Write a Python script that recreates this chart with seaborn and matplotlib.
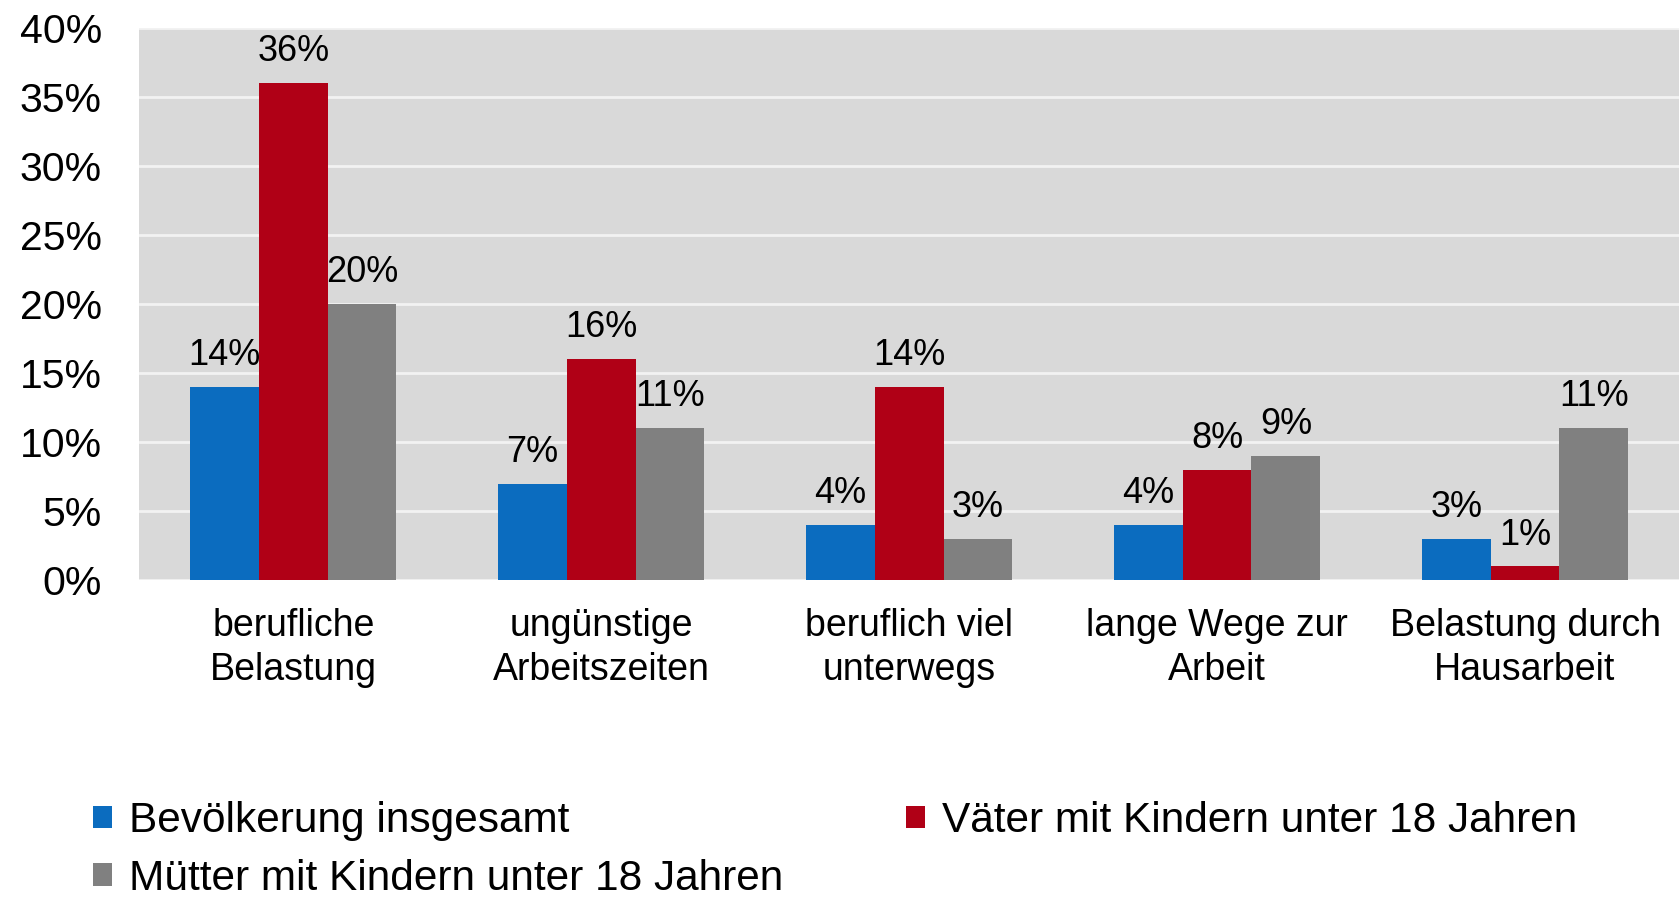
import pandas as pd
import seaborn as sns
from matplotlib import pyplot as plt

categories = ['berufliche\nBelastung', 'ungünstige\nArbeitszeiten', 'beruflich viel\nunterwegs',
              'lange Wege zur\nArbeit', 'Belastung durch\nHausarbeit']
series = ['Bevölkerung insgesamt', 'Väter mit Kindern unter 18 Jahren',
          'Mütter mit Kindern unter 18 Jahren']
bevoelkerung = [14, 7, 4, 4, 3]
vaeter = [36, 16, 14, 8, 1]
muetter = [20, 11, 3, 9, 11]
colors = ['#0B6CBF', '#B00016', '#808080']

df = pd.DataFrame({
    'Kategorie': categories * 3,
    'Gruppe': [series[0]] * 5 + [series[1]] * 5 + [series[2]] * 5,
    'Wert': bevoelkerung + vaeter + muetter,
})

sns.set_style('white')
plt.rcParams['font.family'] = ['Liberation Sans', 'DejaVu Sans']
plt.rcParams['text.color'] = 'black'
plt.rcParams['xtick.color'] = 'black'
plt.rcParams['ytick.color'] = 'black'

fig, ax = plt.subplots(figsize=(16.79, 9.01), dpi=100)
fig.subplots_adjust(left=0.083, right=1.0, top=0.969, bottom=0.356)

sns.barplot(data=df, x='Kategorie', y='Wert', hue='Gruppe', palette=colors,
            width=0.67, saturation=1, linewidth=0, ax=ax)

ax.set_facecolor('#D9D9D9')
ax.set_ylim(0, 40)
ax.set_xlim(-0.5, 4.5)
ax.set_yticks(range(0, 41, 5))
ax.set_yticklabels([f'{v}%' for v in range(0, 41, 5)], fontsize=29.5)
ax.tick_params(axis='y', length=0, pad=27)
ax.tick_params(axis='x', length=0, pad=20, labelsize=27)
for t in ax.get_xticklabels():
    t.set_linespacing(1.3)
ax.yaxis.grid(True, color='#F2F2F2', linewidth=2)
ax.set_axisbelow(True)
ax.set_xlabel('')
ax.set_ylabel('')
for s in ax.spines.values():
    s.set_visible(False)

for cont in ax.containers:
    ax.bar_label(cont, fmt='%d%%', padding=10, fontsize=26)

handles, labels = ax.get_legend_handles_labels()
order = [0, 2, 1]
ax.legend([handles[i] for i in order], [labels[i] for i in order],
          ncol=2, frameon=False, fontsize=30.5, loc='upper left',
          bbox_to_anchor=(-0.03, -0.40), handlelength=0.45, handleheight=0.45,
          handletextpad=0.4, columnspacing=2.9, labelspacing=0.42,
          borderaxespad=0, borderpad=0)

plt.savefig('out.png', dpi=100)
